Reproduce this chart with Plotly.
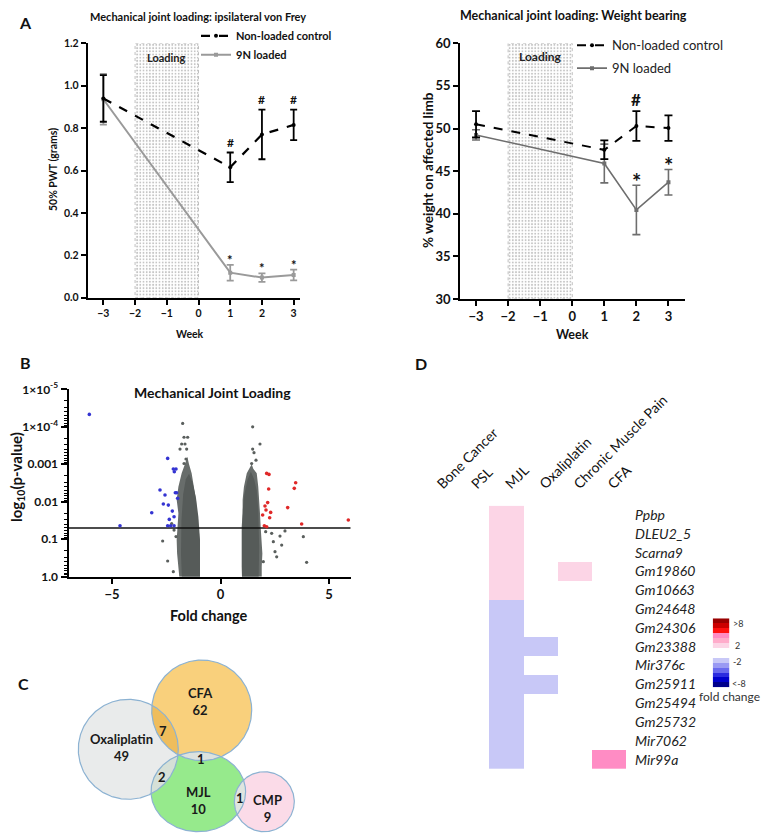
import numpy as np
import plotly.graph_objects as go

W, H = 772, 838
OFF = 8  # the page places the figure 8 px in from the top-left corner

# ---------------- Panel A data ----------------
weeks = [-3, 1, 2, 3]
week_ticks = [-3, -2, -1, 0, 1, 2, 3]
loading_weeks = [-2, 0]
vf_range = [0, 1.2]
wb_range = [30, 60]

vf_ctrl_mean = [0.94, 0.615, 0.77, 0.815]
vf_ctrl_err = [0.11, 0.07, 0.117, 0.072]
vf_load_mean = [0.936, 0.118, 0.095, 0.107]
vf_load_err = [0.12, 0.037, 0.02, 0.025]
vf_ctrl_sig = ["", "#", "#", "#"]
vf_load_sig = ["", "*", "*", "*"]

wb_ctrl_mean = [50.5, 47.5, 50.3, 50.05]
wb_ctrl_err = [1.55, 1.1, 1.75, 1.5]
wb_load_mean = [49.25, 45.9, 40.45, 43.7]
wb_load_err = [0.6, 2.27, 2.9, 1.5]
wb_ctrl_sig = ["", "", "#", ""]
wb_load_sig = ["", "", "*", "*"]

# ---------------- Panel B data (volcano) ----------------
volcano_xrange = [-7, 6]
p_threshold = 0.05
# dense point clouds (outline of the packed region), fold change / -log10(p)
left_cloud_fc = [-0.945, -0.945, -0.975, -1.02, -1.10, -1.13, -1.22, -1.33, -1.45, -1.53,
                 -1.64, -1.79, -1.94, -2.02, -1.94, -1.97, -2.02, -2.0, -1.94, -1.90]
left_cloud_nlp = [0, 0.62, 0.98, 1.33, 1.69, 2.05, 2.40, 2.76, 3.0, 3.2,
                  3.0, 2.76, 2.40, 2.05, 1.69, 1.33, 0.98, 0.62, 0.27, 0]
right_cloud_fc = [0.99, 0.976, 0.976, 0.976, 1.02, 1.02, 1.08, 1.21, 1.36, 1.44,
                  1.51, 1.67, 1.74, 1.79, 1.82, 1.85, 1.90, 1.93, 1.90, 1.90]
right_cloud_nlp = [0, 0.27, 0.98, 1.33, 1.69, 2.05, 2.40, 2.76, 2.92, 3.0,
                   2.88, 2.76, 2.40, 2.05, 1.69, 1.33, 0.98, 0.62, 0.27, 0]
left_core_fc = [-0.945, -0.945, -1.02, -1.13, -1.28, -1.45, -1.60, -1.72, -1.80, -1.82, -1.78]
left_core_nlp = [0, 1.0, 1.6, 2.1, 2.5, 2.75, 2.6, 2.2, 1.5, 0.6, 0]
right_core_fc = [0.99, 0.99, 1.03, 1.10, 1.25, 1.40, 1.55, 1.67, 1.74, 1.78, 1.76]
right_core_nlp = [0, 1.2, 1.8, 2.2, 2.6, 2.8, 2.6, 2.3, 1.8, 0.8, 0]

gray_fc = [-1.743, -1.682, -1.513, -1.789, -1.636, -1.866, -1.559, -1.59, -1.68, -2.665, -2.435,
           -2.174, -2.14, -2.25, -2.05, 1.482, 1.82, 1.482, 1.544, 1.636, 1.436, 2.742, 2.972,
           2.358, 3.817, 3.97, 2.512, 2.82, 2.435, 2.082, 2.59, 1.973]
gray_nlp = [4.09, 3.72, 3.72, 3.54, 3.54, 3.405, 3.405, 3.14, 3.02, 0.952, 0.419,
            0.135, 1.245, 1.42, 1.07, 4.0, 3.54, 3.405, 3.31, 3.11, 3.02, 1.085, 1.22,
            1.157, 1.067, 0.383, 0.667, 0.845, 0.934, 1.2, 0.53, 0.4]
blue_fc = [-6.045, -4.631, -2.435, -2.174, -2.051, -2.128, -2.788, -2.558, -2.082, -2.02,
           -1.974, -2.634, -2.404, -3.168, -2.22, -2.14, -2.36, -2.435, -2.297, -2.14]
blue_nlp = [4.33, 1.361, 3.157, 2.873, 2.873, 2.8, 2.312, 2.18, 2.24, 2.24,
            2.09, 1.94, 1.91, 1.707, 1.75, 1.6, 1.529, 1.36, 1.36, 1.36]
red_fc = [2.128, 2.235, 3.464, 3.40, 2.22, 2.174, 2.05, 2.097, 3.096, 2.312, 1.943,
          2.266, 3.74, 5.89, 2.02, 2.128]
red_nlp = [2.756, 2.73, 2.508, 2.357, 2.34, 1.977, 1.888, 1.78, 1.843, 1.716, 1.645,
           1.574, 1.405, 1.512, 1.36, 1.334]
volcano_tickvals = [1e-5, 1e-4, 1e-3, 1e-2, 1e-1, 1]
volcano_ticktext = ["1×10<sup>-5</sup>", "1×10<sup>-4</sup>", "0.001", "0.01", "0.1", "1.0"]

# ---------------- Panel C data (Venn) ----------------
venn_names = ["Oxaliplatin", "CFA", "MJL", "CMP"]
venn_counts = [49, 62, 10, 9]
venn_cx = [128.3, 201.7, 198.3, 264.3]
venn_cy = [749.3, 710.3, 791.7, 801.7]
venn_rx = [50, 50, 47.3, 30]
venn_ry = [50, 50.3, 40, 30]
venn_fill = ["#e9ebeb", "#f9d07c", "#96ea8c", "#fbdbe8"]
venn_label_x = [121.7, 200.5, 198.3, 267.3]
venn_label_y = [747, 701.4, 800.3, 808.3]
overlap_pairs = [(0, 1), (0, 2), (1, 2), (2, 3)]
overlap_counts = [7, 2, 1, 1]
overlap_fill = ["#efbd5c", "#d6e0d7", "#dce2de", "#dfe5df"]
overlap_label_x = [163.3, 161.7, 201.0, 240.0]
overlap_label_y = [731.0, 776.7, 759.0, 798.3]

# ---------------- Panel D data (heatmap) ----------------
conditions = ["Bone Cancer", "PSL", "MJL", "Oxaliplatin", "Chronic Muscle Pain", "CFA"]
genes = ["Ppbp", "DLEU2_5", "Scarna9", "Gm19860", "Gm10663", "Gm24648", "Gm24306",
         "Gm23388", "Mir376c", "Gm25911", "Gm25494", "Gm25732", "Mir7062", "Mir99a"]
mjl_fc = [2, 2, 2, 2, 2, -2, -2, -2, -2, -2, -2, -2, -2, -2]
oxaliplatin_fc = {"Gm23388": -2, "Gm25911": -2}
cmp_fc = {"Gm19860": 2}
cfa_fc = {"Mir99a": 4}
legend_levels = [8, 7, 6, 4, 3, 2, None, None, -2, -3, -4, -6, -7, -8]

fc_colorscale = [
    [0.0, "#00008b"], [0.0625, "#0000cc"], [0.125, "#2b2be0"], [0.25, "#6a6aee"],
    [0.3125, "#9a9af3"], [0.375, "#c8c8f7"], [0.5, "#ffffff"], [0.625, "#fcd5e6"],
    [0.6875, "#ffaccb"], [0.75, "#ff8cc4"], [0.875, "#ff1010"], [0.9375, "#cc0000"],
    [1.0, "#990000"],
]

# ---------------- helpers (positions given in window pixels) ----------------
def fx(x):
    return (x - OFF) / W

def fy(y):
    return 1 - (y - OFF) / H

def dom_x(a, b):
    return [fx(a), fx(b)]

def dom_y(top, bottom):
    return [fy(bottom), fy(top)]

FONT = "Lato"
annotations = []

def ann_px(text, x, y, size=12, bold=True, angle=0, xanchor="center", color="#111"):
    t = f"<b>{text}</b>" if bold else text
    annotations.append(dict(text=t, x=fx(x), y=fy(y), xref="paper", yref="paper",
                            showarrow=False, xanchor=xanchor, yanchor="middle", textangle=angle,
                            font=dict(family=FONT, size=size, color=color)))

fig = go.Figure()

# ---------------- Panel A ----------------
def loading_box(xa, ya, yr):
    lx = [loading_weeks[0], loading_weeks[1], loading_weeks[1], loading_weeks[0], loading_weeks[0]]
    ly = [yr[0], yr[0], yr[1], yr[1], yr[0]]
    fig.add_trace(go.Scatter(x=lx, y=ly, mode="lines", fill="toself", xaxis=xa, yaxis=ya,
                             line=dict(color="#b0b0b0", width=0.8, dash="dot"),
                             fillcolor="white",
                             fillpattern=dict(shape=".", fgcolor="#8a8a8a", bgcolor="white",
                                              size=3.2, solidity=0.28),
                             name="Loading", showlegend=False, hoverinfo="skip"))

loading_box("x", "y", vf_range)
loading_box("x2", "y2", wb_range)

fig.add_trace(go.Scatter(x=weeks, y=vf_load_mean, xaxis="x", yaxis="y", mode="lines+markers",
                         line=dict(color="#9a9a9a", width=2), marker=dict(size=4, color="#9a9a9a", symbol="square"),
                         error_y=dict(type="data", array=vf_load_err, color="#9a9a9a", thickness=1.8, width=3.5),
                         name="9N loaded", showlegend=False))
fig.add_trace(go.Scatter(x=weeks, y=vf_ctrl_mean, xaxis="x", yaxis="y", mode="lines+markers",
                         line=dict(color="black", width=2.2, dash="dash"), marker=dict(size=4, color="black"),
                         error_y=dict(type="data", array=vf_ctrl_err, color="black", thickness=1.8, width=3.5),
                         name="<b>Non-loaded control</b>", legend="legend", legendgroup="a"))
fig.add_trace(go.Scatter(x=[None], y=[None], xaxis="x", yaxis="y", mode="lines+markers",
                         line=dict(color="#9a9a9a", width=2), marker=dict(size=4, color="#9a9a9a", symbol="square"),
                         name="<b>9N loaded</b>", legend="legend", legendgroup="b"))

fig.add_trace(go.Scatter(x=weeks, y=wb_load_mean, xaxis="x2", yaxis="y2", mode="lines+markers",
                         line=dict(color="#6e6e6e", width=1.6), marker=dict(size=4, color="#6e6e6e", symbol="square"),
                         error_y=dict(type="data", array=wb_load_err, color="#6e6e6e", thickness=1.6, width=4),
                         name="9N loaded", showlegend=False))
fig.add_trace(go.Scatter(x=weeks, y=wb_ctrl_mean, xaxis="x2", yaxis="y2", mode="lines+markers",
                         line=dict(color="black", width=2, dash="dash"), marker=dict(size=4, color="black"),
                         error_y=dict(type="data", array=wb_ctrl_err, color="black", thickness=1.8, width=4),
                         name="Non-loaded control", legend="legend2", legendgroup="c"))
fig.add_trace(go.Scatter(x=[None], y=[None], xaxis="x2", yaxis="y2", mode="lines+markers",
                         line=dict(color="#6e6e6e", width=1.6), marker=dict(size=4, color="#6e6e6e", symbol="square"),
                         name="9N loaded", legend="legend2", legendgroup="d"))

def sig_ann(xa, ya, xs, means, errs, sigs, size_hash, size_star, sh_hash, sh_star):
    for x, m, e, s in zip(xs, means, errs, sigs):
        if not s:
            continue
        is_star = s == "*"
        annotations.append(dict(text=f"<b>{s}</b>", x=x, y=m + e, xref=xa, yref=ya, showarrow=False,
                                yanchor="middle", yshift=sh_star if is_star else sh_hash,
                                font=dict(family=FONT, size=size_star if is_star else size_hash, color="#111")))

sig_ann("x", "y", weeks, vf_ctrl_mean, vf_ctrl_err, vf_ctrl_sig, 12, 13, 10, 5)
sig_ann("x", "y", weeks, vf_load_mean, vf_load_err, vf_load_sig, 12, 13, 10, 5)
sig_ann("x2", "y2", weeks, wb_ctrl_mean, wb_ctrl_err, wb_ctrl_sig, 17, 22, 12, 4)
sig_ann("x2", "y2", weeks, wb_load_mean, wb_load_err, wb_load_sig, 17, 22, 12, 4)

annotations.append(dict(text="<b>Loading</b>", x=-1, y=1.134, xref="x", yref="y", showarrow=False,
                        font=dict(family=FONT, size=11, color="#222")))
annotations.append(dict(text="<b>Loading</b>", x=-1, y=58.4, xref="x2", yref="y2", showarrow=False,
                        font=dict(family=FONT, size=12, color="#222")))

ann_px("Mechanical joint loading: ipsilateral von Frey", 197.5, 17, size=11)
ann_px("Mechanical joint loading: Weight bearing", 573, 16, size=12.5)
ann_px("50% PWT (grams)", 53, 170, size=10.5, angle=-90)
ann_px("Week", 190, 334, size=10.5)
ann_px("% weight on affected limb", 428, 170, size=13.5, angle=-90)
ann_px("Week", 572, 334, size=12.5)
ann_px("A", 25, 23, size=16)
ann_px("B", 25, 362, size=16)
ann_px("C", 23, 683, size=16)
ann_px("D", 421, 363, size=16)

# ---------------- Panel B ----------------
def to_p(nlp):
    return [10 ** (-v) for v in nlp]

for fcs, nlps, col in [(left_cloud_fc, left_cloud_nlp, "#686d6b"), (right_cloud_fc, right_cloud_nlp, "#686d6b"),
                       (left_core_fc, left_core_nlp, "#565b59"), (right_core_fc, right_core_nlp, "#565b59")]:
    fig.add_trace(go.Scatter(x=fcs, y=to_p(nlps), xaxis="x3", yaxis="y3", mode="lines", fill="toself",
                             fillcolor=col, line=dict(width=0, color=col), name="genes",
                             showlegend=False, hoverinfo="skip"))
fig.add_trace(go.Scatter(x=gray_fc, y=to_p(gray_nlp), xaxis="x3", yaxis="y3", mode="markers",
                         marker=dict(size=3.2, color="#5a5f5d"), name="ns", showlegend=False))
fig.add_trace(go.Scatter(x=volcano_xrange, y=[p_threshold, p_threshold], xaxis="x3", yaxis="y3", mode="lines",
                         line=dict(color="#111", width=1.6), name="P=0.05", showlegend=False))
fig.add_trace(go.Scatter(x=blue_fc, y=to_p(blue_nlp), xaxis="x3", yaxis="y3", mode="markers",
                         marker=dict(size=3.6, color="#3434d2"), name="down", showlegend=False))
fig.add_trace(go.Scatter(x=red_fc, y=to_p(red_nlp), xaxis="x3", yaxis="y3", mode="markers",
                         marker=dict(size=3.6, color="#e02828"), name="up", showlegend=False))

ann_px("Mechanical Joint Loading", 212, 393, size=14)
ann_px("log<sub>10</sub>(p-value)", 17, 477, size=15, angle=-90)
ann_px("Fold change", 209, 615, size=14.5)
annotations.append(dict(text="<b>P=0.05</b>", x=6.55, y=0.077, xref="x3", yref="y3", showarrow=False,
                        xanchor="right", yanchor="middle", font=dict(family=FONT, size=12, color="#111")))

minor_vals = [k * 10.0 ** e for e in range(-5, 0) for k in range(2, 10)]

# ---------------- Panel C ----------------
def ellipse_pts(i, n=361):
    t = np.linspace(0, 2 * np.pi, n)
    return venn_cx[i] + venn_rx[i] * np.cos(t), venn_cy[i] + venn_ry[i] * np.sin(t)

def inside(i, x, y):
    return ((x - venn_cx[i]) / venn_rx[i]) ** 2 + ((y - venn_cy[i]) / venn_ry[i]) ** 2 <= 1.0

def lens(i, j):
    xi, yi = ellipse_pts(i, 1441)
    xj, yj = ellipse_pts(j, 1441)
    mi = inside(j, xi, yi)
    mj = inside(i, xj, yj)
    px = np.concatenate([xi[mi], xj[mj]])
    py = np.concatenate([yi[mi], yj[mj]])
    mx, my = px.mean(), py.mean()
    order = np.argsort(np.arctan2(py - my, px - mx))
    px, py = px[order], py[order]
    return np.append(px, px[0]), np.append(py, py[0])

for i in range(len(venn_names)):
    ex, ey = ellipse_pts(i)
    fig.add_trace(go.Scatter(x=ex, y=ey, xaxis="x4", yaxis="y4", mode="lines", fill="toself",
                             fillcolor=venn_fill[i], line=dict(width=0, color=venn_fill[i]),
                             name=venn_names[i], showlegend=False, hoverinfo="skip"))
for (i, j), col in zip(overlap_pairs, overlap_fill):
    lx, ly = lens(i, j)
    fig.add_trace(go.Scatter(x=lx, y=ly, xaxis="x4", yaxis="y4", mode="lines", fill="toself",
                             fillcolor=col, line=dict(width=0, color=col), name="overlap",
                             showlegend=False, hoverinfo="skip"))
for i in range(len(venn_names)):
    ex, ey = ellipse_pts(i)
    fig.add_trace(go.Scatter(x=ex, y=ey, xaxis="x4", yaxis="y4", mode="lines",
                             line=dict(width=1.2, color="#8cb2d2"), name=venn_names[i],
                             showlegend=False, hoverinfo="skip"))
for name, cnt, x, y in zip(venn_names, venn_counts, venn_label_x, venn_label_y):
    annotations.append(dict(text=f"<b>{name}<br>{cnt}</b>", x=x, y=y, xref="x4", yref="y4", showarrow=False,
                            font=dict(family=FONT, size=13, color="#1a1a1a")))
for cnt, x, y in zip(overlap_counts, overlap_label_x, overlap_label_y):
    annotations.append(dict(text=f"<b>{cnt}</b>", x=x, y=y, xref="x4", yref="y4", showarrow=False,
                            font=dict(family=FONT, size=13, color="#1a1a1a")))

# ---------------- Panel D ----------------
z = []
for gi, g in enumerate(genes):
    row = [None, None, mjl_fc[gi], oxaliplatin_fc.get(g), cmp_fc.get(g), cfa_fc.get(g)]
    z.append(row)
fig.add_trace(go.Heatmap(z=z, x=conditions, y=genes, xaxis="x5", yaxis="y5", colorscale=fc_colorscale,
                         zmin=-8, zmax=8, showscale=False, hoverongaps=False, name="fold change"))
fig.add_trace(go.Heatmap(z=[[v] for v in legend_levels], x=["fc"], y=list(range(len(legend_levels))),
                         xaxis="x6", yaxis="y6", colorscale=fc_colorscale, zmin=-8, zmax=8,
                         showscale=False, hoverongaps=False, name="scale"))
ann_px("&gt;8", 730.5, 623, size=9, bold=False, xanchor="left", color="#333")
ann_px("2", 733, 645.5, size=9, bold=False, xanchor="left", color="#333")
ann_px("-2", 731, 661, size=9, bold=False, xanchor="left", color="#333")
ann_px("&lt;-8", 729.5, 683.5, size=9, bold=False, xanchor="left", color="#333")
ann_px("fold change", 729, 696.5, size=12, bold=False, color="#333")

# ---------------- layout ----------------
ax_common = dict(showgrid=False, zeroline=False, showline=True, linecolor="black", linewidth=1.6,
                 ticks="outside", ticklen=5, tickwidth=1.5, tickcolor="black", automargin=False)
hidden = dict(visible=False, showgrid=False, zeroline=False, automargin=False)

fig.update_layout(
    width=W, height=H, margin=dict(l=0, r=0, t=0, b=0, pad=0, autoexpand=False),
    paper_bgcolor="white", plot_bgcolor="white",
    font=dict(family=FONT, color="#111"),
    xaxis=dict(ax_common, domain=dom_x(87.5, 300), range=[-3.5, 3.2], tickvals=week_ticks, anchor="y",
               tickfont=dict(family=FONT, size=10.5, weight="bold")),
    yaxis=dict(ax_common, domain=dom_y(43.3, 297.7), range=vf_range, dtick=0.2, tickformat=".1f", anchor="x",
               tickfont=dict(family=FONT, size=10.5, weight="bold")),
    xaxis2=dict(ax_common, domain=dom_x(460, 684.5), range=[-3.5, 3.5], tickvals=week_ticks, anchor="y2",
                tickfont=dict(family=FONT, size=13, weight="bold")),
    yaxis2=dict(ax_common, domain=dom_y(43.3, 299), range=wb_range, dtick=5, anchor="x2",
                tickfont=dict(family=FONT, size=13, weight="bold")),
    xaxis3=dict(ax_common, domain=dom_x(68.6, 350.7), range=volcano_xrange, tickvals=[-5, 0, 5], anchor="y3",
                tickfont=dict(family=FONT, size=13, weight="bold")),
    yaxis3=dict(ax_common, domain=dom_y(389.3, 576.7), type="log", range=[0, -5], anchor="x3",
                tickvals=volcano_tickvals, ticktext=volcano_ticktext, linewidth=2.2, ticklen=6,
                minor=dict(tickmode="array", tickvals=minor_vals, ticks="outside", ticklen=3,
                           tickcolor="black", tickwidth=1),
                tickfont=dict(family=FONT, size=12, weight="bold")),
    xaxis4=dict(hidden, domain=dom_x(70, 305), range=[70, 305], anchor="y4"),
    yaxis4=dict(hidden, domain=dom_y(655, 838), range=[838, 655], anchor="x4"),
    xaxis5=dict(domain=dom_x(421, 626), range=[-0.5, 5.5], side="top", tickangle=-45, anchor="y5",
                showgrid=False, zeroline=False, showline=False, ticks="", ticklabelstandoff=10,
                automargin=False, tickfont=dict(family=FONT, size=14, color="#111")),
    yaxis5=dict(domain=dom_y(505.7, 769), range=[13.5, -0.5], side="right", anchor="x5",
                showgrid=False, zeroline=False, showline=False, ticks="", ticklabelstandoff=8,
                automargin=False, tickfont=dict(family=FONT, size=14, color="#222", style="italic")),
    xaxis6=dict(hidden, domain=dom_x(712.7, 729.3), anchor="y6"),
    yaxis6=dict(hidden, domain=dom_y(618.3, 687.3), range=[13.5, -0.5], anchor="x6"),
    legend=dict(x=fx(196), y=fy(21.3), xanchor="left", yanchor="top", bgcolor="rgba(0,0,0,0)",
                font=dict(family=FONT, size=11, color="#111"), tracegroupgap=0),
    legend2=dict(x=fx(572), y=fy(30.3), xanchor="left", yanchor="top", bgcolor="rgba(0,0,0,0)",
                 font=dict(family=FONT, size=13, color="#222"), tracegroupgap=3),
    annotations=annotations,
)

fig.write_html("out.html")
